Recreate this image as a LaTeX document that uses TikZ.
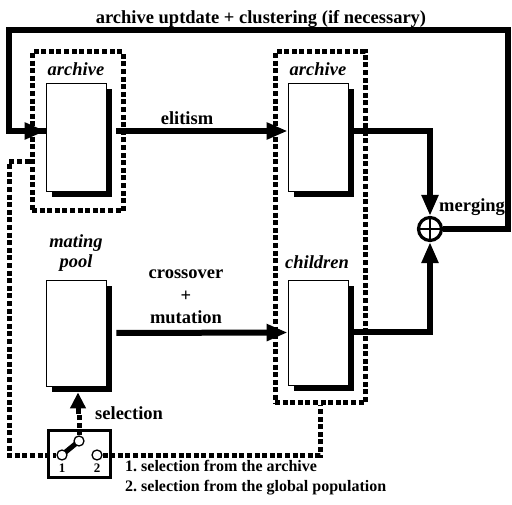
\documentclass[tikz,border=0pt]{standalone}
\usepackage{fontspec}
\setmainfont{Liberation Serif}
\usetikzlibrary{arrows.meta,shadows}
\begin{document}
\frenchspacing
\begin{tikzpicture}[x=1pt,y=-1pt,
  box/.style={draw=black,line width=0.8pt,fill=white,minimum width=60pt,inner sep=0pt,
    drop shadow={shadow xshift=6pt,shadow yshift=-6pt,fill=black,opacity=1}},
  dotbox/.style={draw=black,line width=5pt,dash pattern=on 5pt off 2.6pt,inner sep=0pt},
  dotline/.style={line width=5pt,dash pattern=on 5pt off 2.6pt},
  arr/.style={line width=6pt,-{Triangle[length=21pt,width=16pt]}},
  fb/.style={line width=6pt},
  lab/.style={font=\fontsize{18.5}{20}\selectfont\bfseries,inner sep=0pt,anchor=base},
  ilab/.style={font=\fontsize{18.5}{20}\selectfont\bfseries\itshape,inner sep=0pt,anchor=base},
  leg/.style={font=\fontsize{16}{18}\selectfont\bfseries,inner sep=0pt,anchor=base west},
  sc/.style={circle,draw=black,fill=white,line width=1.3pt,minimum size=10pt,inner sep=0pt}
]
\useasboundingbox (0,0) rectangle (512,505);

% dotted groups
\node[dotbox,minimum width=91pt,minimum height=159pt] (d1) at (77.5,131.5) {};
\node[dotbox,minimum width=90pt,minimum height=351pt] (d2) at (320,227.5) {};

% population boxes
\node[box,minimum height=108pt] (a1) at (76,137) {};
\node[box,minimum height=108pt] (a2) at (318,137) {};
\node[box,minimum height=106pt] (mp) at (76,333) {};
\node[box,minimum height=105pt] (ch) at (318,332.5) {};

% merging
\node[circle,draw=black,fill=white,line width=3.2pt,minimum size=23pt,inner sep=0pt] (m) at (430,229) {};
\draw[line width=2.2pt] (m.center) ++(0,-10) -- ++(0,20);
\draw[line width=2.2pt] (m.center) ++(-10,0) -- ++(20,0);

% switch
\node[draw=black,line width=3.2pt,minimum width=62pt,minimum height=47pt,inner sep=0pt] (sw) at (79.5,454) {};
\draw[line width=5pt] (62,455) -- (79,441);
\node[sc] (s1) at (62,455) {};
\node[sc] (s2) at (97,455) {};
\node[sc] (sp) at (79,441) {};
\node[font=\fontsize{13}{14}\selectfont\bfseries,inner sep=0pt,anchor=base] (n1) at (62,472) {1};
\node[font=\fontsize{13}{14}\selectfont\bfseries,inner sep=0pt,anchor=base] (n2) at (97,472) {2};

% connectors
\coordinate (tr) at (508,30);
\coordinate (tl) at (9,30);
\draw[fb] (m.east) -| (tr) -- (tl) |- ([yshift=6pt]a1.west);
\draw[arr] (tl |- 0,131) -- ([yshift=6pt]a1.west);
\draw[arr] ([xshift=10pt,yshift=6pt]a1.east) -- ([yshift=6pt]a2.west);
\draw[arr] ([xshift=10pt]mp.east) -- (ch.west);
\draw[arr] ([yshift=6pt]a2.east) -| (m.north);
\draw[arr] (ch.east) -| (m.south);

\coordinate (dl) at (9,455);
\draw[dotline] ([yshift=-30.5pt]d1.west) -| (dl) -- (s1);
\draw[dotline] (s2) -| (d2.south);
\coordinate (selb) at (78,414);
\draw[dotline] (sp) -- (sp |- selb);
\draw[line width=5pt,-{Triangle[length=16pt,width=15pt]}] (selb) -- ([yshift=-6pt]selb |- mp.south);

% labels
\node[lab] (title) at (261,24) {archive uptdate + clustering (if necessary)};
\node[ilab] (la1) at (76,76) {archive};
\node[ilab] (la2) at (318,76) {archive};
\node[lab] (lel) at (187,125) {elitism};
\node[ilab] (lmat) at (76,248) {mating};
\node[ilab] (lpool) at (76,268) {pool};
\node[lab] (lcr) at (186,279) {crossover};
\node[lab] (lplus) at (186,302) {+};
\node[lab] (lmu) at (186,324) {mutation};
\node[ilab] (lch) at (317,269) {children};
\node[lab,anchor=base west] (lme) at (439,212) {merging};
\node[lab,anchor=base west] (lsel) at (95,419) {selection};
\node[leg] (lg1) at (125,471) {1. selection from the archive};
\node[leg] (lg2) at (125,491) {2. selection from the global population};
\end{tikzpicture}
\end{document}
